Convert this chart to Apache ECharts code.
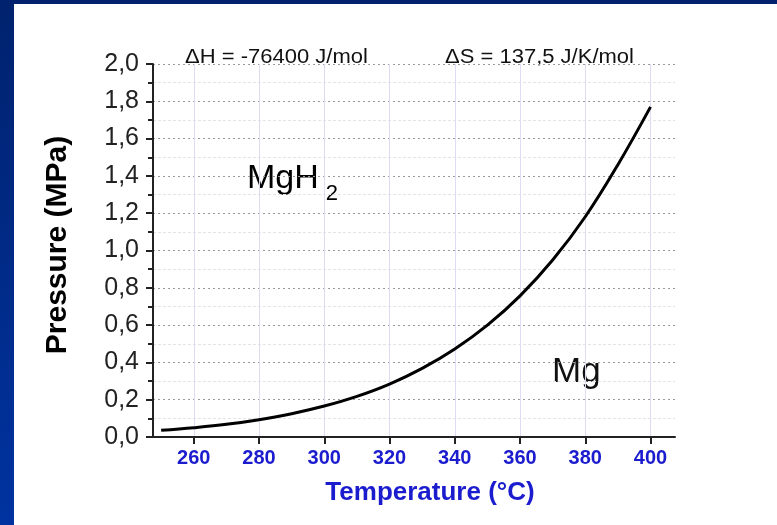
<!DOCTYPE html>
<html>
<head>
<meta charset="utf-8">
<script src="https://cdn.jsdelivr.net/npm/echarts@6/dist/echarts.min.js"></script>
<style>html,body{margin:0;padding:0;background:#fff}#c{width:777px;height:525px}</style>
</head>
<body>
<div id="c"></div>
<script>
const temperatures = [250, 260, 270, 280, 290, 300, 310, 320, 330, 340, 350, 360, 370, 380, 390, 400];
const pressures = [0.036, 0.050, 0.068, 0.093, 0.125, 0.166, 0.218, 0.284, 0.368, 0.472, 0.600, 0.757, 0.949, 1.181, 1.460, 1.77];
const xTicks = [260, 280, 300, 320, 340, 360, 380, 400];
const xLabel = 'Temperature (°C)';
const yLabel = 'Pressure (MPa)';
const dHText = 'ΔH = -76400 J/mol';
const dSText = 'ΔS = 137,5 J/K/mol';

const FONT = 'Liberation Sans, Arial, sans-serif';
const chart = echarts.init(document.getElementById('c'), null, {renderer: 'canvas'});
chart.setOption({
  backgroundColor: '#ffffff',
  animation: false,
  grid: {left: 153, right: 102, top: 64, bottom: 88, containLabel: false},
  xAxis: {
    type: 'value', min: 247.5, max: 407.5,
    axisLine: {show: true, onZero: false, lineStyle: {color: '#222', width: 2}},
    axisTick: {show: true, inside: false, length: 7, lineStyle: {color: '#222', width: 2}, customValues: xTicks},
    axisLabel: {customValues: xTicks, margin: 11, fontFamily: FONT, fontSize: 20, fontWeight: 'bold', color: '#1c1ccf'},
    splitLine: {show: true, lineStyle: {color: '#dcdcf2', width: 1, type: 'solid'}},
    minorTick: {show: false}
  },
  yAxis: {
    type: 'value', min: 0, max: 2, interval: 0.2,
    axisLine: {show: true, onZero: false, lineStyle: {color: '#222', width: 2}},
    axisTick: {show: true, inside: false, length: 7, lineStyle: {color: '#222', width: 2}},
    minorTick: {show: true, splitNumber: 2, length: 5, lineStyle: {color: '#222', width: 2}},
    axisLabel: {margin: 14, fontFamily: FONT, fontSize: 25, color: '#222',
      formatter: v => v.toFixed(1).replace('.', ',')},
    splitLine: {show: true, lineStyle: {color: '#999', width: 1, type: [2, 3]}},
    minorSplitLine: {show: true, lineStyle: {color: '#e4e4e4', width: 1, type: [3, 2]}}
  },
  series: [{
    type: 'line', smooth: 0.4, showSymbol: false,
    data: temperatures.map((t, i) => [t, pressures[i]]),
    lineStyle: {color: '#000', width: 3}
  }],
  graphic: [
    {type: 'rect', left: 0, top: 0, shape: {width: 777, height: 4}, style: {fill: '#00226e'}, z: 100},
    {type: 'rect', left: 0, top: 0, shape: {width: 14, height: 525},
      style: {fill: new echarts.graphic.LinearGradient(0, 0, 0, 1, [{offset: 0, color: '#00226e'}, {offset: 1, color: '#0033a0'}])}, z: 100},
    {type: 'text', x: 185, y: 47, scaleX: 1.1, style: {text: dHText, font: '20px ' + FONT, fill: '#111'}},
    {type: 'text', x: 445, y: 47, scaleX: 1.1, style: {text: dSText, font: '20px ' + FONT, fill: '#111'}},
    {type: 'text', x: 247, y: 153, style: {
      rich: {m: {fontSize: 34, fontFamily: FONT, color: '#111'}, s: {fontSize: 22, fontFamily: FONT, color: '#111', padding: [30, 0, 0, 7]}},
      text: '{m|MgH}{s|2}'}},
    {type: 'text', x: 552, y: 355, style: {text: 'Mg', font: '35px ' + FONT, fill: '#111'}},
    {type: 'text', x: 430, y: 493, style: {text: xLabel, font: 'bold 26px ' + FONT, fill: '#1c1ccf', align: 'center', verticalAlign: 'middle'}},
    {type: 'text', x: 58, y: 245, rotation: Math.PI / 2, style: {text: yLabel, font: 'bold 30px ' + FONT, fill: '#000', align: 'center', verticalAlign: 'middle'}}
  ]
});
</script>
</body>
</html>
